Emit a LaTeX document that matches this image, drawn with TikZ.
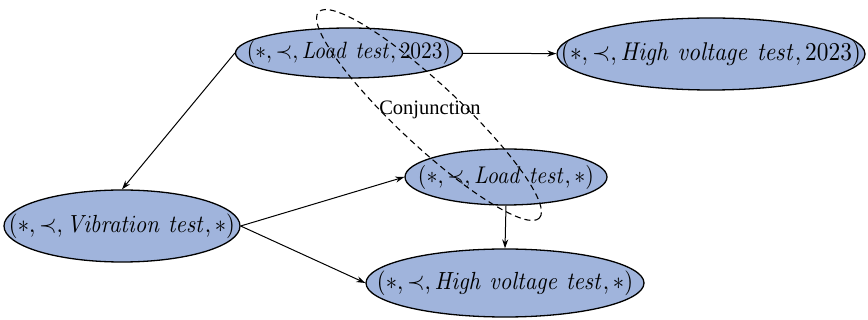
\documentclass[tikz,border=0pt]{standalone}
\usepackage[no-math]{fontspec}
\newfontfamily\labelfont{Liberation Serif}
\usetikzlibrary{shapes.geometric,arrows.meta}
\definecolor{nodefill}{RGB}{160,180,220}
\tikzset{
  state/.style={ellipse, draw=black, line width=1.3pt, fill=nodefill, inner sep=0pt},
  statetext/.style={inner sep=0pt},
  link/.style={-{Stealth[length=9pt,width=6pt]}, line width=1pt},
  group/.style={ellipse, draw=black, dashed, dash pattern=on 6pt off 4pt, line width=1.1pt, inner sep=0pt},
}
\newcommand{\fsz}[1]{\fontsize{#1}{#1}\selectfont}
% state label set to a given overall width, letters slightly heightened
\newcommand{\st}[2]{\resizebox{#1}{!}{\scalebox{1}[1.1]{$#2$}}}
\begin{document}
\begin{tikzpicture}[x=1pt,y=-1pt]
\useasboundingbox (0,0) rectangle (868,320);
% event states: outline first, text on top
\node[state, minimum width=227pt, minimum height=50pt] (lt23) at (349,53) {};
\node[statetext] (lt23t) at (lt23) {\st{204pt}{(\ast,\prec,\mathit{Load\ test},2023)}};
\node[state, minimum width=308pt, minimum height=72pt] (hv23) at (711,54) {};
\node[statetext] (hv23t) at (hv23) {\st{300pt}{(\ast,\prec,\mathit{High\ voltage\ test},2023)}};
\node[state, minimum width=202pt, minimum height=56pt] (lts) at (506,177) {};
\node[statetext] (ltst) at (lts) {\st{176pt}{(\ast,\prec,\mathit{Load\ test},\ast)}};
\node[state, minimum width=236pt, minimum height=72pt] (vib) at (122,226) {};
\node[statetext] (vibt) at (vib) {\st{226pt}{(\ast,\prec,\mathit{Vibration\ test},\ast)}};
\node[state, minimum width=278pt, minimum height=68pt] (hvs) at (505,283) {};
\node[statetext] (hvst) at (hvs) {\st{256pt}{(\ast,\prec,\mathit{High\ voltage\ test},\ast)}};
% conjunction group
\node[group, minimum width=302pt, minimum height=62pt, rotate=-43] (conj) at (429,115) {};
\node[font=\labelfont\fsz{20.5}] (conjlabel) at (430,110) {Conjunction};
% connectors
\draw[link] (lt23) -- (hv23);
\draw[link] (lt23.west) -- (vib.north);
\draw[link] (vib.east) -- (lts.west);
\draw[link] (vib.east) -- (hvs.west);
\draw[link] (lts.south) -- (hvs.north);
\end{tikzpicture}
\end{document}
